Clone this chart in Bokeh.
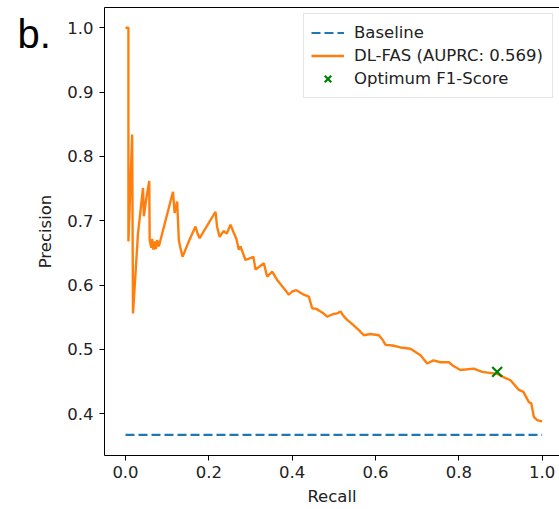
from bokeh.plotting import figure
from bokeh.models import (Range1d, Legend, LegendItem, Label, FixedTicker,
                          NumeralTickFormatter, LinearAxis)
from bokeh.embed import file_html
from bokeh.resources import INLINE

# ---- data ----
recall = [0.000, 0.007, 0.007, 0.016, 0.018, 0.030, 0.042, 0.044, 0.050, 0.057,
          0.058, 0.062, 0.064, 0.067, 0.070, 0.073, 0.076, 0.080, 0.114, 0.118,
          0.124, 0.128, 0.131, 0.137, 0.152, 0.168, 0.173, 0.178, 0.216, 0.220,
          0.226, 0.235, 0.243, 0.252, 0.260, 0.266, 0.272, 0.276, 0.288, 0.307,
          0.312, 0.332, 0.340, 0.352, 0.364, 0.380, 0.392, 0.400, 0.410, 0.420,
          0.428, 0.440, 0.448, 0.458, 0.468, 0.475, 0.484, 0.499, 0.508, 0.516,
          0.523, 0.532, 0.545, 0.560, 0.572, 0.588, 0.608, 0.617, 0.624, 0.641,
          0.660, 0.684, 0.708, 0.724, 0.739, 0.756, 0.776, 0.785, 0.804, 0.836,
          0.856, 0.892, 0.907, 0.924, 0.944, 0.955, 0.968, 0.974, 0.980, 0.988,
          1.000]
precision = [1.000, 1.000, 0.668, 0.834, 0.556, 0.680, 0.751, 0.707, 0.735, 0.762,
             0.670, 0.658, 0.672, 0.655, 0.668, 0.656, 0.670, 0.660, 0.745, 0.712,
             0.730, 0.670, 0.660, 0.644, 0.668, 0.691, 0.680, 0.673, 0.714, 0.690,
             0.675, 0.684, 0.680, 0.694, 0.681, 0.672, 0.655, 0.660, 0.639, 0.644,
             0.624, 0.634, 0.613, 0.621, 0.608, 0.595, 0.585, 0.590, 0.592, 0.588,
             0.585, 0.582, 0.564, 0.563, 0.559, 0.556, 0.551, 0.555, 0.556, 0.559,
             0.552, 0.546, 0.539, 0.530, 0.522, 0.524, 0.522, 0.515, 0.507, 0.506,
             0.503, 0.501, 0.491, 0.478, 0.483, 0.480, 0.480, 0.475, 0.468, 0.470,
             0.465, 0.462, 0.457, 0.452, 0.437, 0.434, 0.418, 0.416, 0.395, 0.390,
             0.388]
baseline_recall = [0.0, 1.0]
baseline_precision = [0.367, 0.367]
opt_recall = [0.892]
opt_precision = [0.465]
x_ticks = [0.0, 0.2, 0.4, 0.6, 0.8, 1.0]
y_ticks = [0.4, 0.5, 0.6, 0.7, 0.8, 0.9, 1.0]
series_labels = ["Baseline", "DL-FAS (AUPRC: 0.569)", "Optimum F1-Score"]
panel_label = "b."
x_label = "Recall"
y_label = "Precision"

FONT = "DejaVu Sans"
FS = "16.5px"
TXT = "#222222"

p = figure(width=559, height=509, output_backend="svg", toolbar_location=None,
           x_range=Range1d(-0.0504, 1.0416), y_range=Range1d(0.335, 1.0316),
           min_border_left=104, min_border_right=0, min_border_top=7, min_border_bottom=54)
p.outline_line_color = None
p.grid.visible = False
p.background_fill_color = "white"
p.border_fill_color = "white"

r_base = p.line(baseline_recall, baseline_precision, line_color="#1f77b4",
                line_width=2.2, line_dash="9 4")
r_curve = p.line(recall, precision, line_color="#ff7f0e", line_width=2.4)
r_opt = p.scatter(opt_recall, opt_precision, marker="x", size=14,
                  line_color="green", line_width=2.2)

xa = p.below[0]
ya = p.left[0]
for ax in (xa, ya):
    ax.axis_line_color = "black"
    ax.axis_line_width = 1
    ax.major_tick_line_color = "black"
    ax.major_tick_out = 5
    ax.major_tick_in = 0
    ax.minor_tick_line_color = None
    ax.major_label_text_font = FONT
    ax.major_label_text_font_size = FS
    ax.major_label_text_color = TXT
    ax.axis_label_text_font = FONT
    ax.axis_label_text_font_size = FS
    ax.axis_label_text_font_style = "normal"
    ax.axis_label_text_color = TXT

xa.ticker = FixedTicker(ticks=x_ticks)
ya.ticker = FixedTicker(ticks=y_ticks)
xa.formatter = NumeralTickFormatter(format="0.0")
ya.formatter = NumeralTickFormatter(format="0.0")
xa.axis_label = x_label
ya.axis_label = y_label
xa.major_label_standoff = 5
ya.major_label_standoff = 6
xa.axis_label_standoff = 6
ya.axis_label_standoff = 9

# top spine (empty axis)
top = LinearAxis(ticker=FixedTicker(ticks=[]), axis_line_color="black", axis_line_width=1,
                 major_tick_out=0, major_tick_in=0, minor_tick_out=0, minor_tick_in=0,
                 major_label_text_font_size="0px", major_label_standoff=0)
p.add_layout(top, "above")

legend = Legend(items=[LegendItem(label=series_labels[0], renderers=[r_base]),
                       LegendItem(label=series_labels[1], renderers=[r_curve]),
                       LegendItem(label=series_labels[2], renderers=[r_opt])],
                location="top_right", margin=6, padding=7, spacing=0,
                glyph_width=33, glyph_height=23, label_height=23, label_standoff=10,
                label_width=191,
                label_text_font=FONT, label_text_font_size=FS, label_text_color=TXT,
                border_line_color="#cccccc", border_line_width=1,
                background_fill_color="white", background_fill_alpha=0.8)
p.add_layout(legend)

p.add_layout(Label(x=17, y=422, x_units="screen", y_units="screen", text=panel_label,
                   text_font="Liberation Sans", text_font_size="40px", text_color="black",
                   text_baseline="alphabetic"), "left")

open("out.html", "w").write(file_html(p, INLINE))
